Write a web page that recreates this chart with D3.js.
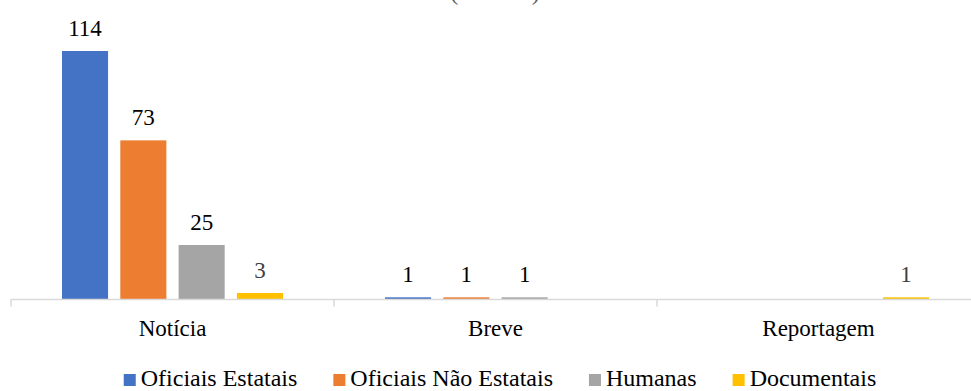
<!DOCTYPE html>
<html>
<head>
<meta charset="utf-8">
<script src="https://cdn.jsdelivr.net/npm/d3@7"></script>
<style>
  html, body { margin: 0; padding: 0; background: #fff; }
  svg text { font-family: 'Liberation Serif', Tinos, 'Times New Roman', Times, serif; }
</style>
</head>
<body>
<svg id="chart"></svg>
<script>
(() => {

  const categories = ['Notícia', 'Breve', 'Reportagem'];
  const series     = ['Oficiais Estatais', 'Oficiais Não Estatais', 'Humanas', 'Documentais'];
  const colors     = ['#4472C4', '#ED7D31', '#A5A5A5', '#FFC000'];
  // valores por série, na ordem das categorias (0 = sem barra)
  const oficiaisEstatais    = [114, 1, 0];
  const oficiaisNaoEstatais = [73, 1, 0];
  const humanas             = [25, 1, 0];
  const documentais         = [3, 0, 1];
  const title = '(n = 219)';

  const values = [oficiaisEstatais, oficiaisNaoEstatais, humanas, documentais];
  const FONT = "'Liberation Serif', Tinos, 'Times New Roman', Times, serif";

  const svgWidth  = 971;
  const svgHeight = 391;

  const svg = d3.select('#chart')
    .attr('width', svgWidth)
    .attr('height', svgHeight);

  const x = d3.scaleBand()
    .domain(categories)
    .range([11, 980]);

  const xs = d3.scaleBand()
    .domain(series)
    .range([51, 272])
    .paddingInner(0.21);

  const y = d3.scaleLinear()
    .domain([0, 114])
    .range([299.5, 51]);

  // título (cortado no topo, como na imagem)
  svg.append('text')
    .attr('x', 495)
    .attr('y', 0)
    .attr('text-anchor', 'middle')
    .style('font-family', FONT)
    .attr('font-size', 24)
    .attr('fill', '#595959')
    .text(title);

  const data = [];
  categories.forEach((c, ci) => {
    series.forEach((s, si) => {
      data.push({ cat: c, ser: s, si: si, value: values[si][ci] });
    });
  });
  const shown = data.filter(d => d.value > 0);

  svg.append('g')
    .selectAll('rect')
    .data(shown)
    .enter()
    .append('rect')
    .attr('x', d => x(d.cat) + xs(d.ser))
    .attr('y', d => y(d.value))
    .attr('width', xs.bandwidth())
    .attr('height', d => y(0) - y(d.value))
    .attr('fill', d => colors[d.si]);

  svg.append('g')
    .selectAll('text')
    .data(shown)
    .enter()
    .append('text')
    .attr('x', d => x(d.cat) + xs(d.ser) + xs.bandwidth() / 2)
    .attr('y', d => y(d.value) - 15)
    .attr('text-anchor', 'middle')
    .style('font-family', FONT)
    .attr('font-size', 23)
    .attr('fill', d => d.si === 3 ? '#404040' : '#000')
    .text(d => d.value);

  // eixo x
  const axis = svg.append('g')
    .attr('transform', `translate(0, ${y(0)})`)
    .call(d3.axisBottom(x).tickSize(0).tickPadding(20));
  axis.attr('font-family', null);
  axis.select('.domain').remove();
  axis.selectAll('text')
    .style('font-family', FONT)
    .attr('font-size', 23)
    .attr('fill', '#000');

  axis.append('line')
    .attr('x1', 11).attr('x2', svgWidth)
    .attr('stroke', '#d9d9d9').attr('stroke-width', 1.5);

  axis.selectAll('.edge')
    .data(categories)
    .enter()
    .append('line')
    .attr('x1', d => x(d)).attr('x2', d => x(d))
    .attr('y1', 0).attr('y2', 7)
    .attr('stroke', '#d9d9d9').attr('stroke-width', 1.5);

  // legenda
  const legend = svg.append('g');
  const items = legend.selectAll('g')
    .data(series)
    .enter()
    .append('g');

  items.append('rect')
    .attr('width', 12).attr('height', 12)
    .attr('y', 374)
    .attr('fill', (d, i) => colors[i]);

  items.append('text')
    .attr('y', 386)
    .style('font-family', FONT)
    .attr('font-size', 24)
    .attr('fill', '#000')
    .text(d => d);

  let cursor = 0;
  const offsets = [];
  items.each(function() {
    const w = this.querySelector('text').getComputedTextLength();
    offsets.push(cursor);
    cursor += 12 + 5 + w + 36;
  });
  const total = cursor - 36;
  const startX = 500 - total / 2;
  items.each(function(d, i) {
    const gx = startX + offsets[i];
    d3.select(this).select('rect').attr('x', gx);
    d3.select(this).select('text').attr('x', gx + 17);
  });

})();
</script>
</body>
</html>
